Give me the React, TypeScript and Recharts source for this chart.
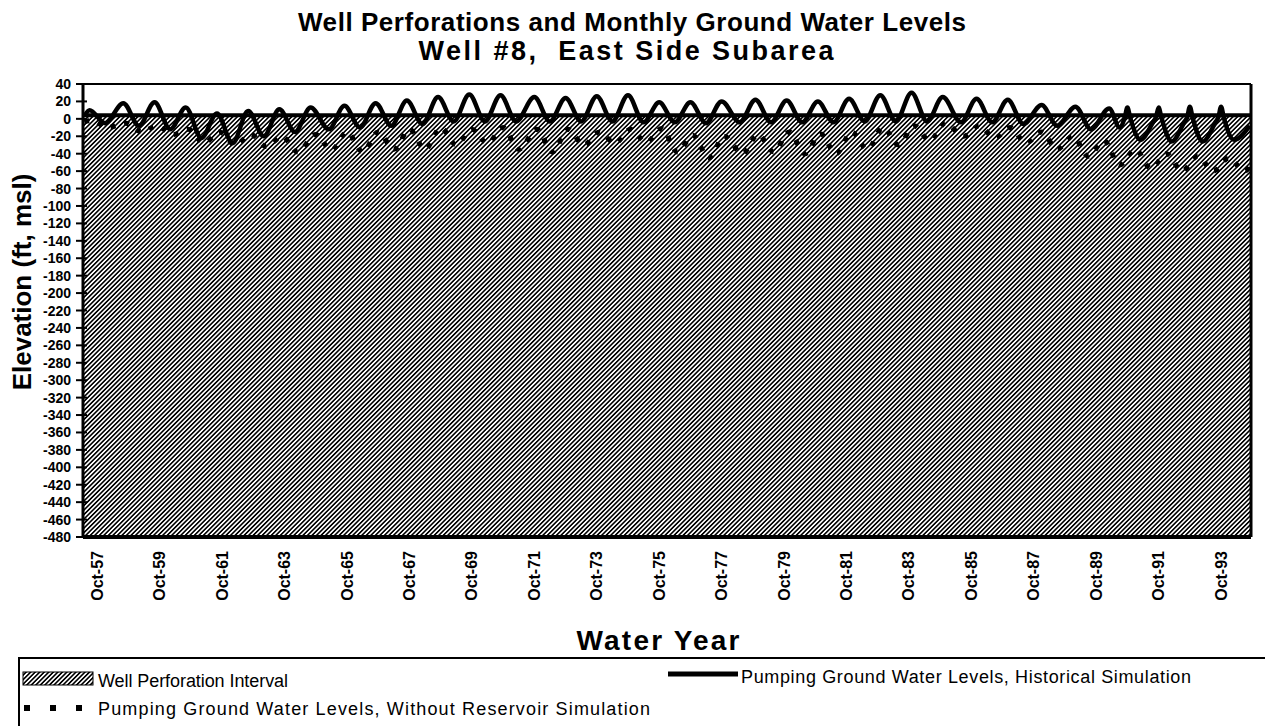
import React from 'react';
import { LineChart, Line, XAxis, YAxis, ReferenceArea, ReferenceLine } from 'recharts';

const FONT = '"Liberation Sans", Arial, Helvetica, sans-serif';

const titleLine1 = 'Well Perforations and Monthly Ground Water Levels';
const titleLine2 = 'Well #8,  East Side Subarea';
const yAxisTitle = 'Elevation (ft, msl)';
const xAxisTitle = 'Water Year';

const legendPerf = 'Well Perforation Interval';
const legendHist = 'Pumping Ground Water Levels, Historical Simulation';
const legendNoRes = 'Pumping Ground Water Levels, Without Reservoir Simulation';

// month index 0 = Oct-57; series run from May-57 (-5) to Sep-94 (443)
const firstMonth = -5;
const lastMonth = 443;
const xTickMonths = [0, 24, 48, 72, 96, 120, 144, 168, 192, 216, 240, 264, 288, 312, 336, 360, 384, 408, 432];
const xTickLabels = ['Oct-57', 'Oct-59', 'Oct-61', 'Oct-63', 'Oct-65', 'Oct-67', 'Oct-69', 'Oct-71', 'Oct-73', 'Oct-75', 'Oct-77', 'Oct-79', 'Oct-81', 'Oct-83', 'Oct-85', 'Oct-87', 'Oct-89', 'Oct-91', 'Oct-93'];
const yTicks = [40, 20, 0, -20, -40, -60, -80, -100, -120, -140, -160, -180, -200, -220, -240, -260, -280, -300, -320, -340, -360, -380, -400, -420, -440, -460, -480];

// Well perforation interval (ft, msl)
const perfTop = 4;
const perfBottom = -480;

// Historical simulation: [month index, elevation]
const histPoints: [number, number][] = [
  [-5, 3], [-3, 10], [3, -5],
  [10, 18], [16, -8],
  [22, 19], [28, -12],
  [34, 13], [40, -22],
  [46, 6], [52, -28],
  [58, 9], [64, -20],
  [70, 11], [76, -15],
  [82, 13], [89, -12],
  [95, 15], [101, -10],
  [107, 18], [113, -8],
  [119, 21], [125, -6],
  [131, 25], [137, -3],
  [143, 28], [149, -3],
  [155, 27], [161, -3],
  [168, 25], [174, -3],
  [180, 24], [186, -3],
  [192, 26], [198, -3],
  [204, 27], [210, -4],
  [216, 19], [222, -4],
  [228, 19], [234, -5],
  [240, 20], [247, -4],
  [253, 22], [259, -4],
  [265, 21], [271, -4],
  [277, 20], [283, -4],
  [289, 23], [295, -3],
  [301, 27], [307, -3],
  [313, 30], [319, -3],
  [325, 25], [332, -4],
  [338, 23], [344, -4],
  [350, 22], [356, -6],
  [363, 16], [369, -8],
  [376, 14], [382, -12],
  [389, 12], [393, -10], [395, 2], [396, 13], [397, 2], [401, -24],
  [406, -3], [407, 2], [408, 13], [409, 2], [413, -26],
  [418, -3], [419, 2], [420, 14], [421, 2], [425, -26],
  [430, -3], [431, 2], [432, 14], [433, 2], [437, -24],
  [443, -8],
];

// Without reservoir simulation: [month index, elevation]
const noResPoints: [number, number][] = [
  [-5, -3], [-2, -2], [4, -10],
  [11, -5], [17, -15],
  [23, -8], [29, -18],
  [35, -12], [41, -28],
  [47, -15], [53, -30],
  [59, -18], [65, -32],
  [71, -20], [77, -38],
  [84, -18], [90, -36],
  [96, -15], [102, -38],
  [108, -15], [114, -35],
  [120, -12], [126, -35],
  [132, -10], [138, -30],
  [144, -12], [150, -28],
  [156, -10], [162, -35],
  [169, -12], [175, -38],
  [181, -12], [187, -30],
  [193, -15], [199, -28],
  [205, -12], [211, -27],
  [217, -11], [223, -38],
  [229, -19], [235, -45],
  [241, -20], [248, -40],
  [254, -18], [260, -38],
  [266, -15], [272, -40],
  [278, -17], [284, -40],
  [290, -15], [296, -35],
  [302, -10], [308, -30],
  [314, -8], [320, -25],
  [326, -5], [333, -20],
  [339, -8], [345, -22],
  [351, -10], [357, -28],
  [363, -15], [369, -35],
  [375, -20], [381, -43],
  [387, -25], [393, -53],
  [399, -35], [405, -57],
  [411, -40], [417, -60],
  [423, -43], [429, -60],
  [435, -45], [441, -60], [443, -55],
];

const histData = histPoints.map(([m, v]) => ({ m, v }));
const noResData = noResPoints.map(([m, v]) => ({ m, v }));

const YTick = (props: any) => {
  const { x, y, payload } = props;
  return (
    <g>
      <line x1={x - 7} x2={x + 4} y1={y} y2={y} stroke="#000" strokeWidth={2} />
      <text x={x - 12} y={y} dy={5} textAnchor="end" fontSize={14} fontWeight="bold" fontFamily={FONT} fill="#000">
        {payload.value}
      </text>
    </g>
  );
};

const XTick = (props: any) => {
  const { x, y, payload } = props;
  const idx = xTickMonths.indexOf(payload.value);
  const label = idx >= 0 ? xTickLabels[idx] : '';
  const ty = y + 14;
  return (
    <text
      x={x}
      y={ty}
      transform={`rotate(-90, ${x}, ${ty})`}
      textAnchor="end"
      dominantBaseline="central"
      fontSize={16}
      fontWeight="bold"
      fontFamily={FONT}
      fill="#000"
    >
      {label}
    </text>
  );
};

export default function App() {
  return (
    <div style={{ position: 'relative', width: 1265, height: 726, background: '#fff', overflow: 'hidden' }}>
      <style>{'body{margin:0;background:#fff;}'}</style>
      <svg width={0} height={0} style={{ position: 'absolute' }}>
        <defs>
          <pattern id="hatch" patternUnits="userSpaceOnUse" width={3.2} height={3.2} patternTransform="rotate(45)">
            <rect x={0} y={0} width={3.2} height={3.2} fill="#fff" />
            <rect x={0} y={0} width={1.6} height={3.2} fill="#000" />
          </pattern>
        </defs>
      </svg>

      <LineChart width={1265} height={726} margin={{ top: 84, right: 14, bottom: 0, left: 0 }}>
        <XAxis
          dataKey="m"
          type="number"
          domain={[firstMonth - 0.5, lastMonth + 0.5]}
          ticks={xTickMonths}
          interval={0}
          tick={<XTick />}
          tickLine={false}
          tickSize={0}
          tickMargin={0}
          height={189}
          axisLine={{ stroke: '#000', strokeWidth: 4 }}
          allowDataOverflow
        />
        <YAxis
          type="number"
          domain={[perfBottom, 40]}
          ticks={yTicks}
          interval={0}
          tick={<YTick />}
          tickLine={false}
          tickSize={0}
          tickMargin={0}
          width={83}
          axisLine={{ stroke: '#000', strokeWidth: 3 }}
          allowDataOverflow
        />
        <ReferenceArea
          x1={firstMonth - 0.5}
          x2={lastMonth + 0.5}
          y1={perfBottom}
          y2={perfTop}
          fill="url(#hatch)"
          fillOpacity={1}
          stroke="none"
          ifOverflow="hidden"
        />
        <ReferenceLine y={perfTop} stroke="#000" strokeWidth={4} />
        <ReferenceLine y={40} stroke="#000" strokeWidth={2} />
        <ReferenceLine x={lastMonth + 0.5} stroke="#000" strokeWidth={3} />
        <Line
          data={noResData}
          dataKey="v"
          type="monotone"
          stroke="#000"
          strokeWidth={5}
          strokeDasharray="5 9"
          dot={false}
          isAnimationActive={false}
        />
        <Line
          data={histData}
          dataKey="v"
          type="monotone"
          stroke="#000"
          strokeWidth={4.5}
          dot={false}
          isAnimationActive={false}
        />
      </LineChart>

      <svg width={1265} height={726} style={{ position: 'absolute', left: 0, top: 0, pointerEvents: 'none' }}>
        <text x={632} y={31} textAnchor="middle" fontSize={26} fontWeight="bold" fontFamily={FONT} textLength={668} lengthAdjust="spacing">{titleLine1}</text>
        <text x={626} y={60} textAnchor="middle" fontSize={27} fontWeight="bold" fontFamily={FONT} textLength={415} lengthAdjust="spacing" style={{ whiteSpace: 'pre' }}>{titleLine2}</text>
        <text x={0} y={0} transform="translate(31, 282) rotate(-90)" textAnchor="middle" fontSize={26} fontWeight="bold" fontFamily={FONT}>{yAxisTitle}</text>
        <text x={658} y={650} textAnchor="middle" fontSize={28} fontWeight="bold" fontFamily={FONT} textLength={163} lengthAdjust="spacing">{xAxisTitle}</text>
      </svg>

      <div style={{ position: 'absolute', left: 18, top: 657, width: 1260, height: 90, borderTop: '2px solid #000', borderLeft: '2px solid #000' }}>
        <svg width={1260} height={70} style={{ position: 'absolute', left: 0, top: 0 }}>
          <rect x={3} y={13} width={70} height={13} fill="url(#hatch)" stroke="#000" strokeWidth={1} />
          <text x={78} y={28} fontSize={18} fontFamily={FONT} textLength={190} lengthAdjust="spacing">{legendPerf}</text>
          <line x1={648} x2={718} y1={15} y2={15} stroke="#000" strokeWidth={5} />
          <text x={721} y={24} fontSize={18} fontFamily={FONT} textLength={450} lengthAdjust="spacing">{legendHist}</text>
          <line x1={4} x2={76} y1={49} y2={49} stroke="#000" strokeWidth={6} strokeDasharray="6 20" />
          <text x={78} y={56} fontSize={18} fontFamily={FONT} textLength={552} lengthAdjust="spacing">{legendNoRes}</text>
        </svg>
      </div>
    </div>
  );
}
